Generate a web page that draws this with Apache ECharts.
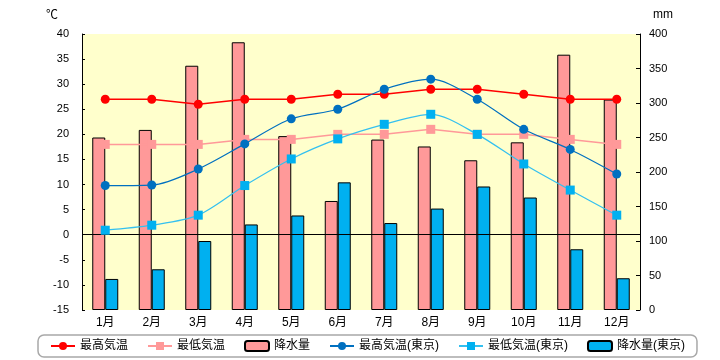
<!DOCTYPE html>
<html><head><meta charset="utf-8">
<script src="https://cdn.jsdelivr.net/npm/echarts@6/dist/echarts.min.js"></script>
<style>html,body{margin:0;background:#fff}#c{width:720px;height:360px}</style>
</head><body><div id="c"></div>
<script>
const months = ['1月','2月','3月','4月','5月','6月','7月','8月','9月','10月','11月','12月'];
const maxTemp = [27, 27, 26, 27, 27, 28, 28, 29, 29, 28, 27, 27];
const minTemp = [18, 18, 18, 19, 19, 20, 20, 21, 20, 20, 19, 18];
const rain = [250, 261, 354, 388, 252, 158, 247, 237, 217, 243, 370, 305];
const maxTempTokyo = [9.8, 9.9, 13.1, 18.1, 23.1, 25.0, 29.0, 31.0, 27.0, 21.0, 17.0, 12.1];
const minTempTokyo = [0.9, 1.9, 3.9, 9.8, 15.1, 19.1, 22.0, 24.0, 20.0, 14.1, 8.9, 3.9];
const rainTokyo = [45, 59, 100, 124, 137, 185, 126, 147, 179, 163, 88, 46];
const tempTicks = {min: -15, max: 40, interval: 5};
const rainTicks = {min: 0, max: 400, interval: 50};

const FONT = '"Liberation Sans", "Noto Sans CJK JP", sans-serif';
const chart = echarts.init(document.getElementById('c'));
chart.setOption({
  animation: false,
  textStyle: {fontFamily: FONT},
  grid: {left: 82, right: 80, top: 34, bottom: 50, show: true, backgroundColor: '#FFFFCC', borderWidth: 0},
  xAxis: {
    type: 'category', data: months,
    axisLine: {show: false}, axisTick: {show: false},
    axisLabel: {color: '#000', fontSize: 12, margin: 7, fontFamily: FONT},
    splitLine: {show: false}
  },
  yAxis: [
    {
      type: 'value', min: tempTicks.min, max: tempTicks.max, interval: tempTicks.interval,
      name: '℃', nameLocation: 'end', nameGap: 12,
      nameTextStyle: {color: '#000', fontSize: 12, align: 'right', padding: [0, 24, 0, 0], fontFamily: FONT},
      axisLine: {show: true, lineStyle: {color: '#000', width: 1}},
      axisTick: {show: true, inside: true, length: 3, lineStyle: {color: '#000'}},
      axisLabel: {color: '#000', fontSize: 11, margin: 13, fontFamily: FONT},
      splitLine: {show: false}
    },
    {
      type: 'value', min: rainTicks.min, max: rainTicks.max, interval: rainTicks.interval,
      name: 'mm', nameLocation: 'end', nameGap: 13,
      nameTextStyle: {color: '#000', fontSize: 12, align: 'left', padding: [0, 0, 0, 13], fontFamily: FONT},
      position: 'right',
      axisLine: {show: true, lineStyle: {color: '#000', width: 1}},
      axisTick: {show: true, inside: true, length: 4, lineStyle: {color: '#000'}},
      axisLabel: {color: '#000', fontSize: 11, margin: 9, fontFamily: FONT},
      splitLine: {show: false}
    }
  ],
  legend: {
    bottom: 3, left: 38,
    borderColor: '#a8a8a8', borderWidth: 1.5, borderRadius: 6,
    padding: [5, 12], itemGap: 19, itemWidth: 24, itemHeight: 10,
    textStyle: {color: '#000', fontSize: 12, fontFamily: FONT},
    data: ['最高気温', '最低気温', '降水量', '最高気温(東京)', '最低気温(東京)', '降水量(東京)']
  },
  series: [
    {
      name: '最高気温', type: 'line', yAxisIndex: 0, data: maxTemp, z: 5,
      symbol: 'circle', symbolSize: 9,
      itemStyle: {color: '#FF0000'}, lineStyle: {color: '#FF0000', width: 1.5},
      markLine: {
        silent: true, symbol: ['none', 'none'], label: {show: false},
        lineStyle: {color: '#000', width: 1, type: 'solid'},
        data: [{yAxis: 0}]
      }
    },
    {
      name: '最低気温', type: 'line', yAxisIndex: 0, data: minTemp, z: 4,
      symbol: 'rect', symbolSize: 9,
      itemStyle: {color: '#FF9999'}, lineStyle: {color: '#FF9999', width: 1.5}
    },
    {
      name: '降水量', type: 'bar', yAxisIndex: 1, data: rain, barWidth: 13, barGap: '0%',
      itemStyle: {color: '#FF9999', borderColor: '#000', borderWidth: 1}
    },
    {
      name: '最高気温(東京)', type: 'line', yAxisIndex: 0, data: maxTempTokyo, z: 6, smooth: 0.3,
      symbol: 'circle', symbolSize: 9,
      itemStyle: {color: '#0070C0'}, lineStyle: {color: '#0070C0', width: 1.2}
    },
    {
      name: '最低気温(東京)', type: 'line', yAxisIndex: 0, data: minTempTokyo, z: 6, smooth: 0.3,
      symbol: 'rect', symbolSize: 9,
      itemStyle: {color: '#00B0F0'}, lineStyle: {color: '#33C0F0', width: 1.2}
    },
    {
      name: '降水量(東京)', type: 'bar', yAxisIndex: 1, data: rainTokyo, barWidth: 13, barGap: '0%',
      itemStyle: {color: '#00B0F0', borderColor: '#000', borderWidth: 1}
    }
  ]
});
</script></body></html>
